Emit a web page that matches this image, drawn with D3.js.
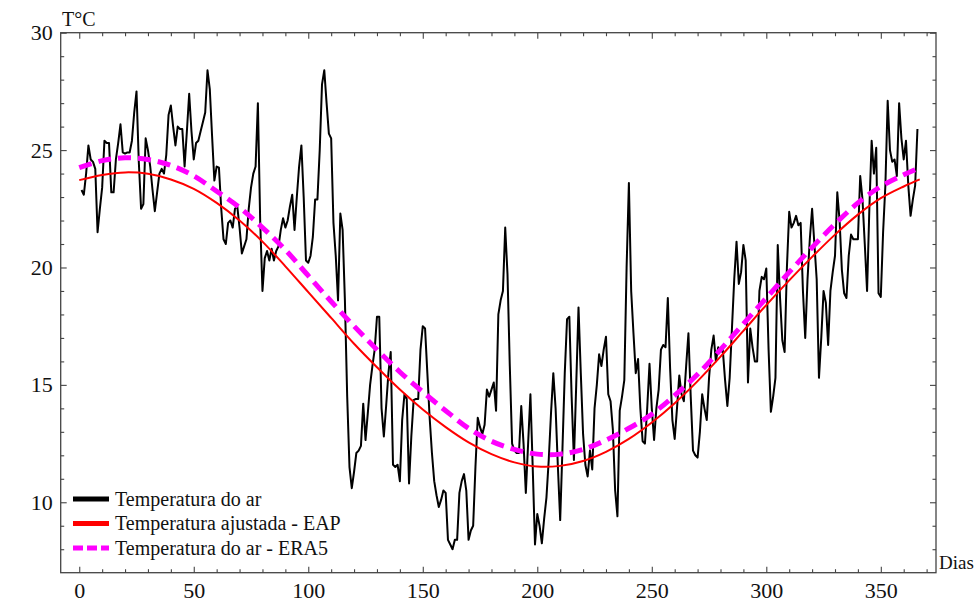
<!DOCTYPE html>
<html>
<head>
<meta charset="utf-8">
<script src="https://cdn.jsdelivr.net/npm/d3@7"></script>
<style>
  body { margin: 0; background: #fff; }
  svg { display: block; }
  svg text { font-family: 'Liberation Serif', 'DejaVu Serif', serif; }
</style>
</head>
<body>
<svg id="chart"></svg>
<script>
// daily air temperature, day 1 .. 366
const firstDay = 1;
const airTemp = [
  23.3, 23.1, 24.0, 25.2, 24.6, 24.5, 24.2, 21.5, 22.5, 23.4,
  25.4, 25.3, 25.3, 23.2, 23.2, 24.6, 25.3, 26.1, 24.9, 24.85,
  24.9, 24.9, 25.4, 26.6, 27.5, 24.5, 22.5, 22.7, 25.5, 25.0,
  24.3, 23.3, 22.4, 23.2, 24.0, 24.2, 24.0, 24.8, 26.5, 26.9,
  26.0, 25.2, 26.0, 25.9, 25.9, 24.3, 25.8, 27.4, 25.8, 24.6,
  25.3, 25.4, 25.8, 26.2, 26.6, 28.4, 27.6, 25.6, 23.7, 24.3,
  24.25, 22.5, 21.2, 21.0, 21.9, 22.0, 21.7, 22.5, 22.6, 21.7,
  20.6, 20.9, 21.2, 22.5, 23.4, 24.0, 24.3, 27.0, 22.0, 19.0,
  20.4, 20.7, 20.3, 20.8, 20.3, 20.7, 20.9, 21.6, 22.1, 21.7,
  22.0, 22.6, 23.1, 21.6, 23.0, 24.3, 25.2, 23.0, 20.3, 20.2,
  20.5, 21.3, 22.9, 22.9, 25.0, 27.8, 28.4, 27.0, 25.7, 25.5,
  21.9, 20.5, 18.6, 22.3, 21.6, 18.6, 14.5, 11.5, 10.6, 11.3,
  12.1, 12.2, 12.4, 14.2, 12.65, 13.8, 15.0, 15.8, 16.5, 17.9,
  17.9, 14.0, 12.8, 14.1, 15.5, 16.4, 11.6, 11.5, 11.6, 10.9,
  13.5, 14.6, 14.4, 10.8, 12.8, 14.35, 14.4, 14.4, 16.5, 17.5,
  17.4, 15.5, 13.6, 12.1, 10.9, 10.3, 9.8, 10.1, 10.5, 10.4,
  8.4, 8.2, 8.0, 8.4, 8.4, 10.4, 10.9, 11.2, 10.5, 8.4,
  8.8, 9.0, 11.5, 13.6, 13.2, 12.9, 13.3, 14.8, 14.5, 14.8,
  15.1, 13.9, 18.0, 18.6, 19.0, 21.7, 19.7, 15.8, 12.5, 12.2,
  12.1, 12.1, 14.1, 12.5, 10.4, 12.5, 14.6, 11.5, 8.2, 9.5,
  9.0, 8.25, 9.3, 10.2, 11.8, 13.8, 15.5, 14.0, 11.5, 9.24,
  12.3, 15.5, 17.8, 17.9, 14.5, 11.8, 15.0, 18.3, 15.5, 12.9,
  11.6, 11.1, 12.2, 11.4, 14.0, 15.0, 16.3, 15.8, 16.5, 17.05,
  14.6, 14.3, 13.1, 10.5, 9.4, 13.9, 14.5, 15.2, 20.0, 23.6,
  19.0, 17.2, 15.5, 16.1, 14.0, 12.6, 12.5, 14.0, 15.9, 14.0,
  12.65, 14.0, 14.8, 16.5, 16.7, 16.6, 18.7, 15.7, 13.5, 12.7,
  14.0, 15.4, 14.6, 14.3, 15.8, 17.2, 14.5, 12.2, 12.0, 11.9,
  13.0, 14.6, 14.0, 13.5, 15.3, 16.5, 17.1, 16.0, 16.6, 16.4,
  16.5, 15.2, 14.1, 15.3, 17.4, 19.5, 21.1, 19.3, 19.8, 20.96,
  20.3, 15.1, 17.4, 16.6, 16.0, 16.0, 19.0, 19.6, 19.5, 19.96,
  16.5, 13.85, 14.5, 15.3, 20.96, 18.7, 16.9, 16.4, 20.0, 22.37,
  21.7, 21.9, 22.2, 21.8, 21.9, 19.0, 17.0, 19.5, 21.2, 22.5,
  21.0, 19.5, 15.3, 17.0, 19.0, 18.5, 16.7, 19.0, 19.8, 20.5,
  23.2, 22.0, 19.9, 18.9, 18.7, 20.5, 21.4, 21.2, 21.2, 21.2,
  23.9, 22.9, 21.0, 19.0, 22.5, 25.4, 24.0, 25.1, 18.9, 18.75,
  21.5, 23.5, 27.1, 25.0, 24.5, 24.6, 23.9, 27.0, 25.5, 24.6,
  25.4, 23.5, 22.2, 22.9, 23.5, 25.9
];

// fitted (EAP) and ERA5 curves, read every 10 days
const curveDays = [0, 10, 20, 30, 40, 50, 60, 70, 80, 90, 100, 110, 120, 130, 140, 150, 160, 170, 180,
  190, 200, 210, 220, 230, 240, 250, 260, 270, 280, 290, 300, 310, 320, 330, 340, 350, 360, 367];
const eapFit = [23.72, 23.94, 24.05, 23.99, 23.75, 23.35, 22.75, 22.0, 21.1, 20.05, 18.95, 17.85, 16.75,
  15.75, 14.8, 13.95, 13.2, 12.55, 12.05, 11.7, 11.52, 11.55, 11.76, 12.15, 12.7, 13.4, 14.22, 15.16,
  16.2, 17.3, 18.4, 19.45, 20.45, 21.4, 22.25, 22.95, 23.45, 23.75];
const era5Temp = [24.25, 24.55, 24.67, 24.6, 24.35, 23.9, 23.25, 22.55, 21.7, 20.75, 19.65, 18.55, 17.5,
  16.5, 15.55, 14.7, 13.9, 13.15, 12.6, 12.25, 12.05, 12.05, 12.25, 12.65, 13.15, 13.75, 14.55, 15.45,
  16.5, 17.6, 18.7, 19.8, 20.85, 21.85, 22.75, 23.45, 23.95, 24.25];

const xMajorTicks = [0, 50, 100, 150, 200, 250, 300, 350];
const xMinorTicks = d3.range(10, 371, 10).filter(d => d % 50 !== 0);
const yMajorTicks = [10, 15, 20, 25, 30];
const yMinorTicks = d3.range(8, 30, 1).filter(d => d % 5 !== 0);
const legendLabels = ['Temperatura do ar', 'Temperatura ajustada - EAP', 'Temperatura do ar - ERA5'];

const W = 978, H = 610;
const margin = { top: 32.7, right: 42, bottom: 37.3, left: 60.7 };
const width = W - margin.left - margin.right;
const height = H - margin.top - margin.bottom;
const serif = "'Liberation Serif', 'DejaVu Serif', serif";

const svg = d3.select('#chart').attr('width', W).attr('height', H);
svg.append('rect').attr('width', W).attr('height', H).attr('fill', '#fff');

const g = svg.append('g').attr('transform', `translate(${margin.left},${margin.top})`);

const x = d3.scaleLinear().domain([-8.1, 374.1]).range([0, width]);
const y = d3.scaleLinear().domain([7, 30]).range([height, 0]);

const frameColor = '#444';

function styleAxis(sel) {
  sel.attr('font-family', serif).attr('font-size', 22);
  sel.select('.domain').remove();
  sel.selectAll('.tick line').attr('stroke', frameColor).attr('stroke-width', 1.1);
  sel.selectAll('.tick text').attr('fill', '#111');
}

// bottom
g.append('g').attr('transform', `translate(0,${height})`)
  .call(d3.axisBottom(x).tickValues(xMajorTicks).tickSize(-6).tickPadding(10).tickFormat(d3.format('d')))
  .call(styleAxis);
g.append('g').attr('transform', `translate(0,${height})`)
  .call(d3.axisBottom(x).tickValues(xMinorTicks).tickSize(-3.5).tickFormat(''))
  .call(styleAxis);
// top
g.append('g')
  .call(d3.axisTop(x).tickValues(xMajorTicks).tickSize(-6).tickFormat(''))
  .call(styleAxis);
g.append('g')
  .call(d3.axisTop(x).tickValues(xMinorTicks).tickSize(-3.5).tickFormat(''))
  .call(styleAxis);
// left
g.append('g')
  .call(d3.axisLeft(y).tickValues(yMajorTicks).tickSize(-6).tickPadding(8).tickFormat(d3.format('d')))
  .call(styleAxis);
g.append('g')
  .call(d3.axisLeft(y).tickValues(yMinorTicks).tickSize(-3.5).tickFormat(''))
  .call(styleAxis);
// right
g.append('g').attr('transform', `translate(${width},0)`)
  .call(d3.axisRight(y).tickValues(yMajorTicks).tickSize(-6).tickFormat(''))
  .call(styleAxis);
g.append('g').attr('transform', `translate(${width},0)`)
  .call(d3.axisRight(y).tickValues(yMinorTicks).tickSize(-3.5).tickFormat(''))
  .call(styleAxis);

g.append('rect')
  .attr('width', width).attr('height', height)
  .attr('fill', 'none').attr('stroke', frameColor).attr('stroke-width', 1.3);

svg.append('clipPath').attr('id', 'plot-clip')
  .append('rect').attr('width', width).attr('height', height);

const plot = g.append('g').attr('clip-path', 'url(#plot-clip)');

const dailyLine = d3.line()
  .x((d, i) => x(firstDay + i))
  .y(d => y(d));

const smoothLine = vals => d3.line()
  .x((d, i) => x(curveDays[i]))
  .y(d => y(d))
  .curve(d3.curveCatmullRom)(vals);

plot.append('path')
  .attr('d', dailyLine(airTemp))
  .attr('fill', 'none')
  .attr('stroke', '#000')
  .attr('stroke-width', 2)
  .attr('stroke-linejoin', 'round');

plot.append('path')
  .attr('d', smoothLine(eapFit))
  .attr('fill', 'none')
  .attr('stroke', '#ff0000')
  .attr('stroke-width', 2);

plot.append('path')
  .attr('d', smoothLine(era5Temp))
  .attr('fill', 'none')
  .attr('stroke', '#ff00ff')
  .attr('stroke-width', 5)
  .attr('stroke-dasharray', '13,7');

// axis titles
svg.append('text')
  .attr('x', 62).attr('y', 26)
  .attr('fill', '#111')
  .attr('font-family', serif)
  .attr('font-size', 20)
  .text('T°C');

svg.append('text')
  .attr('x', 939).attr('y', 569)
  .attr('fill', '#111')
  .attr('font-family', serif)
  .attr('font-size', 19)
  .text('Dias');

// legend
const legendStyles = [
  { color: '#000', dash: null },
  { color: '#ff0000', dash: null },
  { color: '#ff00ff', dash: '10,4' },
];
const legend = svg.append('g')
  .attr('transform', 'translate(73,499)')
  .attr('font-family', serif)
  .attr('font-size', 20);
const items = legend.selectAll('g')
  .data(legendLabels)
  .enter()
  .append('g')
  .attr('transform', (d, i) => `translate(0,${i * 24.5})`);

items.append('line')
  .attr('x1', 0).attr('x2', 36)
  .attr('stroke', (d, i) => legendStyles[i].color)
  .attr('stroke-width', 5)
  .attr('stroke-dasharray', (d, i) => legendStyles[i].dash);

items.append('text')
  .attr('x', 42).attr('y', 6.5)
  .attr('fill', '#111')
  .text(d => d);
</script>
</body>
</html>
